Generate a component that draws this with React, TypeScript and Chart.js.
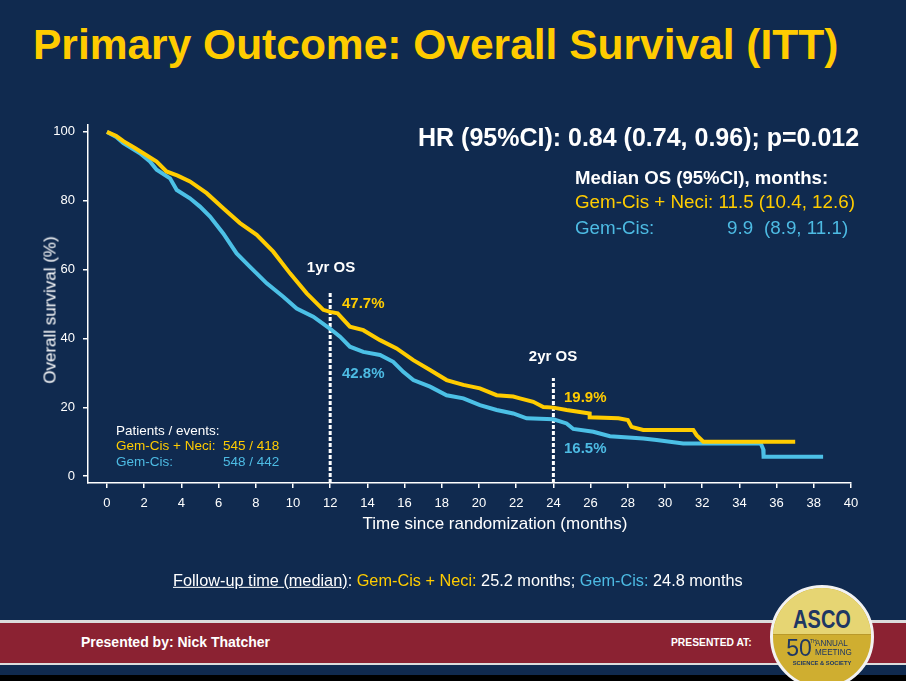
import React, { useEffect, useRef } from "react";
import { Chart, registerables } from "chart.js";

Chart.register(...registerables);

// ---------- data ----------
const neciMonths = [0, 0.5, 0.88, 1.5, 1.95, 2.67, 3.2, 3.8, 4.46, 5.36, 6.25, 7.15, 8.05, 8.94, 9.84, 10.74, 11.63, 12.0, 12.4, 13.06, 13.78, 14.68, 15.57, 16.47, 17.37, 18.26, 19.16, 20.05, 20.95, 21.84, 22.2, 22.92, 23.46, 24.0, 24.71, 25.95, 25.95, 27.5, 28.0, 28.2, 28.83, 31.52, 31.7, 32.06, 37.0];
const neciSurvival = [100, 98.8, 97.3, 95.3, 93.8, 91.4, 88.5, 87.3, 85.6, 82.2, 77.8, 73.5, 70.1, 65.2, 58.9, 53.1, 48.3, 47.7, 47.3, 43.4, 42.4, 39.5, 37.1, 33.7, 30.8, 27.9, 26.5, 25.5, 23.5, 23.1, 22.6, 21.6, 20.1, 19.9, 19.2, 18.2, 17.1, 16.8, 16.3, 14.3, 13.4, 13.4, 11.9, 10.0, 10.0];

const cisMonths = [0, 0.5, 0.88, 1.77, 2.31, 2.67, 3.39, 3.75, 4.46, 5.0, 5.54, 6.25, 6.97, 7.69, 8.59, 9.48, 10.2, 11.09, 12.0, 12.53, 13.06, 13.78, 14.68, 15.39, 15.93, 16.47, 17.37, 18.26, 19.16, 20.05, 20.95, 21.84, 22.56, 24.0, 24.71, 25.07, 26.15, 27.04, 28.83, 29.55, 30.98, 35.15, 35.28, 35.3, 38.5];
const cisSurvival = [100, 98.5, 96.7, 93.8, 91.4, 89.0, 86.5, 83.1, 80.7, 78.3, 75.4, 70.5, 64.7, 60.8, 56.0, 52.1, 48.7, 46.3, 42.8, 40.5, 37.6, 36.1, 35.2, 33.2, 30.3, 27.9, 26.0, 23.5, 22.6, 20.6, 19.2, 18.2, 16.8, 16.5, 15.3, 13.7, 12.9, 11.6, 10.9, 10.5, 9.5, 9.5, 7.8, 5.6, 5.6];

const landmarkMonths = [12, 24];
const landmarkTops = [53.5, 28.5];

const xTickValues = [0, 2, 4, 6, 8, 10, 12, 14, 16, 18, 20, 22, 24, 26, 28, 30, 32, 34, 36, 38, 40];
const yTickValues = [0, 20, 40, 60, 80, 100];

// ---------- styles ----------
const NAVY = "#102A4F";
const GOLD = "#FFCC00";
const BLUE = "#4CC0E6";
const BLUE_TEXT = "#4DBBE3";
const RED = "#8B2232";
const FONT = '"Liberation Sans", Arial, Helvetica, sans-serif';

type TProps = {
  x: number;
  y: number;
  size: number;
  color?: string;
  bold?: boolean;
  center?: boolean;
  children: React.ReactNode;
  style?: React.CSSProperties;
};

function T({ x, y, size, color = "#fff", bold = false, center = false, children, style }: TProps) {
  return (
    <span
      style={{
        position: "absolute",
        left: x,
        top: y,
        fontSize: size,
        lineHeight: 1,
        color,
        fontWeight: bold ? "bold" : "normal",
        whiteSpace: "nowrap",
        transform: center ? "translate(-50%, -50%)" : "translateY(-50%)",
        fontFamily: FONT,
        ...style,
      }}
    >
      {children}
    </span>
  );
}

function KMChart() {
  const ref = useRef<HTMLCanvasElement | null>(null);

  useEffect(() => {
    if (!ref.current) return;
    const landmarkSets = landmarkMonths.map((m, i) => ({
      label: "landmark " + m,
      data: [
        { x: m, y: -2 },
        { x: m, y: landmarkTops[i] },
      ],
      borderColor: "#ffffff",
      borderWidth: 3,
      borderDash: [4, 2],
      pointRadius: 0,
      fill: false,
    }));
    const chart = new Chart(ref.current, {
      type: "line",
      data: {
        datasets: [
          {
            label: "Gem-Cis + Neci",
            data: neciMonths.map((m, i) => ({ x: m, y: neciSurvival[i] })),
            borderColor: GOLD,
            borderWidth: 4,
            pointRadius: 0,
            tension: 0,
            fill: false,
          },
          {
            label: "Gem-Cis",
            data: cisMonths.map((m, i) => ({ x: m, y: cisSurvival[i] })),
            borderColor: BLUE,
            borderWidth: 4,
            pointRadius: 0,
            tension: 0,
            fill: false,
          },
          ...landmarkSets,
        ],
      },
      options: {
        animation: false,
        responsive: false,
        maintainAspectRatio: false,
        layout: { padding: { left: 0, top: 125, right: 55, bottom: 158 } },
        plugins: { legend: { display: false }, tooltip: { enabled: false } },
        scales: {
          x: {
            type: "linear",
            min: -1.02,
            max: 40,
            afterBuildTicks: (s: any) => {
              s.ticks = xTickValues.map((v) => ({ value: v }));
            },
            afterFit: (s: any) => {
              s.height = 40;
            },
            ticks: {
              color: "#ffffff",
              font: { family: FONT, size: 13 },
              padding: 8,
              maxRotation: 0,
              autoSkip: false,
            },
            grid: { drawOnChartArea: false, drawTicks: true, tickLength: 5, color: "#ffffff", lineWidth: 1.5 },
            border: { display: true, color: "#ffffff", width: 1.5 },
          },
          y: {
            type: "linear",
            min: -2,
            max: 102,
            afterBuildTicks: (s: any) => {
              s.ticks = yTickValues.map((v) => ({ value: v }));
            },
            afterFit: (s: any) => {
              s.width = 88;
            },
            ticks: {
              color: "#ffffff",
              font: { family: FONT, size: 13 },
              padding: 8,
              autoSkip: false,
            },
            grid: { drawOnChartArea: false, drawTicks: true, tickLength: 5, color: "#ffffff", lineWidth: 1.5 },
            border: { display: true, color: "#ffffff", width: 1.5 },
          },
        },
      },
    } as any);
    return () => chart.destroy();
  }, []);

  return (
    <canvas
      ref={ref}
      width={906}
      height={681}
      style={{ position: "absolute", left: 0, top: 0, width: 906, height: 681 }}
    />
  );
}

function AscoLogo() {
  const logoNavy = "#1E3763";
  return (
    <div
      style={{
        position: "absolute",
        left: 770,
        top: 585,
        width: 104,
        height: 104,
        borderRadius: "50%",
        border: "3px solid #f2f2f2",
        boxSizing: "border-box",
        overflow: "hidden",
        background: "#CFAE30",
      }}
    >
      <div style={{ position: "absolute", left: 0, top: 0, width: "100%", height: 46, background: "#E6D573" }} />
      <div style={{ position: "absolute", left: 0, top: 46, width: "100%", height: 1, background: "#b9992a" }} />
      <T x={49} y={31} size={25} bold color={logoNavy} center style={{ transform: "translate(-50%, -50%) scaleX(0.8)" }}>
        ASCO
      </T>
      <T x={26} y={60} size={23} color={logoNavy} center style={{ fontWeight: 300 }}>
        50
      </T>
      <T x={37} y={53} size={5} color={logoNavy}>
        TH
      </T>
      <T x={42} y={55} size={9} color={logoNavy} style={{ transform: "translateY(-50%) scaleX(0.9)", transformOrigin: "left center" }}>
        ANNUAL
      </T>
      <T x={42} y={64} size={9} color={logoNavy} style={{ transform: "translateY(-50%) scaleX(0.9)", transformOrigin: "left center" }}>
        MEETING
      </T>
      <T x={49} y={76} size={5.8} bold color={logoNavy} center>
        SCIENCE &amp; SOCIETY
      </T>
    </div>
  );
}

export default function App() {
  return (
    <div
      style={{
        position: "fixed",
        left: 0,
        top: 0,
        width: 906,
        height: 681,
        background: NAVY,
        overflow: "hidden",
        fontFamily: FONT,
      }}
    >
      <T x={33} y={45} size={42.5} bold color={GOLD}>
        Primary Outcome: Overall Survival (ITT)
      </T>

      <KMChart />

      {/* axis titles */}
      <T x={50} y={310} size={17} center style={{ transform: "translate(-50%, -50%) rotate(-90deg)" }}>
        Overall survival (%)
      </T>
      <T x={495} y={523} size={17} center>
        Time since randomization (months)
      </T>

      {/* HR */}
      <T x={418} y={137} size={25} bold>
        HR (95%CI): 0.84 (0.74, 0.96); p=0.012
      </T>

      {/* Median OS */}
      <T x={575} y={178} size={18.6} bold>
        Median OS (95%CI), months:
      </T>
      <T x={575} y={202} size={18.8} color={GOLD}>
        Gem-Cis + Neci: 11.5 (10.4, 12.6)
      </T>
      <T x={575} y={228} size={18.8} color={BLUE_TEXT}>
        Gem-Cis:
      </T>
      <T x={727} y={228} size={18.8} color={BLUE_TEXT}>
        9.9
      </T>
      <T x={764} y={228} size={18.8} color={BLUE_TEXT}>
        (8.9, 11.1)
      </T>

      {/* landmark annotations */}
      <T x={331} y={266} size={15} bold center>
        1yr OS
      </T>
      <T x={342} y={302} size={15} bold color={GOLD}>
        47.7%
      </T>
      <T x={342} y={372} size={15} bold color={BLUE_TEXT}>
        42.8%
      </T>
      <T x={553} y={355} size={15} bold center>
        2yr OS
      </T>
      <T x={564} y={396} size={15} bold color={GOLD}>
        19.9%
      </T>
      <T x={564} y={447} size={15} bold color={BLUE_TEXT}>
        16.5%
      </T>

      {/* patients / events */}
      <T x={116} y={431} size={13.5}>
        Patients / events:
      </T>
      <T x={116} y={446} size={13.5} color={GOLD}>
        Gem-Cis + Neci:
      </T>
      <T x={223} y={446} size={13.5} color={GOLD}>
        545 / 418
      </T>
      <T x={116} y={462} size={13.5} color={BLUE_TEXT}>
        Gem-Cis:
      </T>
      <T x={223} y={462} size={13.5} color={BLUE_TEXT}>
        548 / 442
      </T>

      {/* follow-up */}
      <T x={173} y={580} size={16.3}>
        <span style={{ textDecoration: "underline" }}>Follow-up time (median)</span>:{" "}
        <span style={{ color: GOLD }}>Gem-Cis + Neci:</span> 25.2 months;{" "}
        <span style={{ color: BLUE_TEXT }}>Gem-Cis:</span> 24.8 months
      </T>

      {/* footer */}
      <div style={{ position: "absolute", left: 0, top: 620, width: 906, height: 3, background: "#dcdcdc" }} />
      <div style={{ position: "absolute", left: 0, top: 623, width: 906, height: 40, background: RED }} />
      <div style={{ position: "absolute", left: 0, top: 663, width: 906, height: 2, background: "#dcdcdc" }} />
      <div style={{ position: "absolute", left: 0, top: 675, width: 906, height: 6, background: "#000" }} />
      <T x={81} y={642} size={14} bold>
        Presented by: Nick Thatcher
      </T>
      <T x={671} y={643} size={10.3} bold>
        PRESENTED AT:
      </T>

      <AscoLogo />
    </div>
  );
}
